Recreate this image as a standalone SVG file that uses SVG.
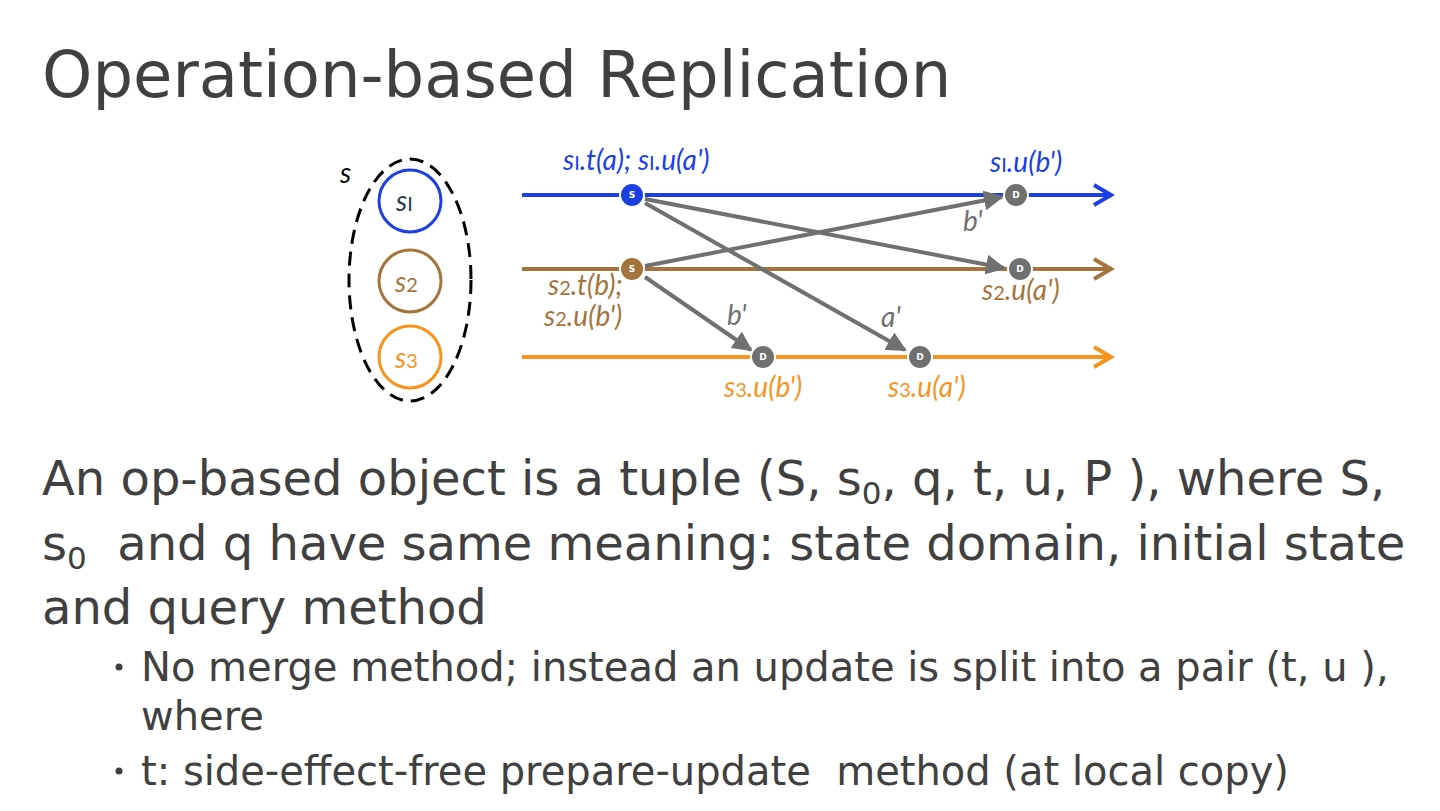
<svg xmlns="http://www.w3.org/2000/svg" width="1440" height="811" viewBox="0 0 1440 811">
<style>
.title{font-family:"DejaVu Sans",sans-serif;font-size:64px;fill:#404040}
.body{font-family:"DejaVu Sans",sans-serif;font-size:48px;fill:#404040;white-space:pre}
.bul{font-family:"DejaVu Sans",sans-serif;font-size:40px;fill:#404040;white-space:pre}
.lbl{font-family:Lato,"Open Sans",sans-serif;font-style:italic;font-size:28px}
.sub{font-size:20px;font-style:normal}
.blue{fill:#1a40e4}.brown{fill:#a5733c}.orange{fill:#f7941d}.gray{fill:#707070}
.msg{stroke:#707070;stroke-width:4;fill:none;marker-end:url(#ah)}
.nodeTxt{font-family:"DejaVu Sans",sans-serif;font-size:9px;font-weight:bold;fill:#fff;text-anchor:middle}
</style>
<defs>
<marker id="ah" viewBox="0 0 10 10" refX="9" refY="5" markerWidth="5" markerHeight="5" orient="auto" markerUnits="strokeWidth">
<path d="M0,0 L10,5 L0,10 z" fill="#707070"/>
</marker>
</defs>
<rect width="1440" height="811" fill="#fff"/>
<text class="title" x="42" y="97">Operation-based Replication</text>

<g id="set">
<ellipse cx="410" cy="280" rx="61" ry="121" fill="none" stroke="#000" stroke-width="3" stroke-dasharray="14,8"/>
<text class="lbl" x="340" y="183" fill="#000">s</text>
</g>
<g id="s1"><circle cx="410" cy="201" r="31" fill="none" stroke="#1a40e4" stroke-width="3"/><text class="lbl" x="396" y="211" fill="#1c3c50">s<tspan class="sub">I</tspan></text></g>
<g id="s2"><circle cx="410" cy="281" r="31" fill="none" stroke="#a5733c" stroke-width="3"/><text class="lbl brown" x="395" y="292">s<tspan class="sub">2</tspan></text></g>
<g id="s3"><circle cx="410" cy="357" r="31" fill="none" stroke="#f7941d" stroke-width="3"/><text class="lbl orange" x="395" y="368">s<tspan class="sub">3</tspan></text></g>

<g id="timelines">
<line x1="522" y1="195" x2="1110" y2="195" stroke="#1a40e4" stroke-width="4"/>
<polyline points="1094,185 1111,195 1094,205" fill="none" stroke="#1a40e4" stroke-width="4"/>
<line x1="522" y1="269" x2="1110" y2="269" stroke="#a5733c" stroke-width="4"/>
<polyline points="1094,259 1111,269 1094,279" fill="none" stroke="#a5733c" stroke-width="4"/>
<line x1="522" y1="357" x2="1110" y2="357" stroke="#f7941d" stroke-width="4"/>
<polyline points="1094,347 1111,357 1094,367" fill="none" stroke="#f7941d" stroke-width="4"/>
</g>

<g id="connectors">
<line class="msg" x1="645" y1="199" x2="1004" y2="268"/>
<line class="msg" x1="645" y1="203" x2="905" y2="350"/>
<line class="msg" x1="645" y1="266" x2="1002" y2="197"/>
<line class="msg" x1="645" y1="277" x2="751" y2="350"/>
</g>

<g id="nS1"><circle cx="632" cy="195" r="12" fill="#1a40e4" stroke="#fff" stroke-width="2"/><text class="nodeTxt" x="632" y="198">S</text></g>
<g id="nS2"><circle cx="632" cy="269" r="12" fill="#a5733c" stroke="#fff" stroke-width="2"/><text class="nodeTxt" x="632" y="272">S</text></g>
<g id="nD1"><circle cx="1016" cy="195" r="12" fill="#707070" stroke="#fff" stroke-width="2"/><text class="nodeTxt" x="1016" y="198">D</text></g>
<g id="nD2"><circle cx="1020" cy="269" r="12" fill="#707070" stroke="#fff" stroke-width="2"/><text class="nodeTxt" x="1020" y="272">D</text></g>
<g id="nD3"><circle cx="763" cy="357" r="12" fill="#707070" stroke="#fff" stroke-width="2"/><text class="nodeTxt" x="763" y="360">D</text></g>
<g id="nD4"><circle cx="920" cy="357" r="12" fill="#707070" stroke="#fff" stroke-width="2"/><text class="nodeTxt" x="920" y="360">D</text></g>

<g id="labels">
<text class="lbl blue" x="563" y="170">s<tspan class="sub">I</tspan>.t(a); s<tspan class="sub">I</tspan>.u(a')</text>
<text class="lbl blue" x="990" y="172">s<tspan class="sub">I</tspan>.u(b')</text>
<text class="lbl gray" x="963" y="231">b'</text>
<text class="lbl brown" x="548" y="295" font-size="27">s<tspan class="sub">2</tspan>.t(b);</text>
<text class="lbl brown" x="544" y="326" font-size="27">s<tspan class="sub">2</tspan>.u(b')</text>
<text class="lbl brown" x="982" y="300">s<tspan class="sub">2</tspan>.u(a')</text>
<text class="lbl gray" x="727" y="325">b'</text>
<text class="lbl gray" x="881" y="327">a'</text>
<text class="lbl orange" x="724" y="397">s<tspan class="sub">3</tspan>.u(b')</text>
<text class="lbl orange" x="888" y="397">s<tspan class="sub">3</tspan>.u(a')</text>
</g>

<text class="body" x="42" y="495">An op-based object is a tuple (S, s<tspan font-size="31" dy="9">0</tspan><tspan dy="-9">, q, t, u, P ), where S,</tspan></text>
<text class="body" x="42" y="560">s<tspan font-size="31" dy="9">0</tspan><tspan dy="-9">  and q have same meaning: state domain, initial state</tspan></text>
<text class="body" x="42" y="624">and query method</text>
<circle cx="119" cy="667" r="3.5" fill="#404040"/>
<text class="bul" x="141" y="681">No merge method; instead an update is split into a pair (t, u ),</text>
<text class="bul" x="141" y="730">where</text>
<circle cx="119" cy="771" r="3.5" fill="#404040"/>
<text class="bul" x="141" y="785">t: side-effect-free prepare-update  method (at local copy)</text>
</svg>
